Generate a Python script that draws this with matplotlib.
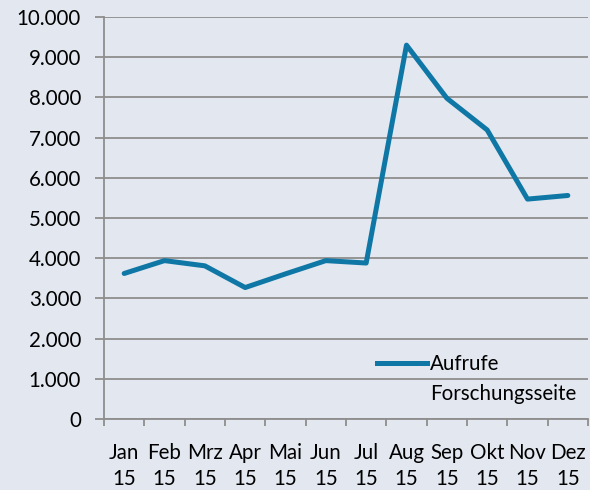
import matplotlib
matplotlib.use("Agg")
import matplotlib.pyplot as plt
from matplotlib.lines import Line2D
from matplotlib.ticker import FuncFormatter

# ---------------------------------- data ----------------------------------
months = ["Jan", "Feb", "Mrz", "Apr", "Mai", "Jun", "Jul", "Aug", "Sep", "Okt", "Nov", "Dez"]
years = ["15"] * 12
aufrufe = [3620, 3940, 3810, 3270, 3610, 3940, 3880, 9300, 7980, 7190, 5470, 5560]
series_name = "Aufrufe\nForschungsseite"

bg = "#e2e7f0"
line_color = "#0f77a5"
grid_color = "#8e8e8e"
fs = 14.8

plt.rcParams["font.family"] = ["Lato", "DejaVu Sans"]

fig = plt.figure(figsize=(5.9, 4.9), dpi=100, facecolor=bg)
ax = fig.add_axes([104 / 590, 1 - 419 / 490, 484 / 590, 402 / 490])
ax.set_facecolor(bg)

x = list(range(len(months)))
ax.plot(x, aufrufe, color=line_color, linewidth=3.6, solid_joinstyle="round", solid_capstyle="round", zorder=3)

ax.set_xlim(-0.5, len(months) - 0.5)
ax.set_ylim(0, 10000)
ax.set_yticks(range(0, 10001, 1000))
ax.yaxis.set_major_formatter(FuncFormatter(lambda v, p: f"{int(v):,}".replace(",", ".")))
ax.grid(axis="y", color=grid_color, linewidth=1.3)
ax.set_axisbelow(True)

# category boundaries get tick marks, labels sit in between
ax.set_xticks([i - 0.5 for i in range(len(months) + 1)])
ax.set_xticklabels([])
ax.set_xticks(x, minor=True)
ax.set_xticklabels([m + "\n" + y for m, y in zip(months, years)], minor=True, linespacing=1.42)
ax.tick_params(axis="x", which="major", length=5, width=1.3, color=grid_color, direction="out")
ax.tick_params(axis="x", which="minor", length=0, pad=17, labelsize=fs)
ax.tick_params(axis="y", length=6.5, width=1.3, color=grid_color, labelsize=fs, pad=10)

for s in ["top", "right"]:
    ax.spines[s].set_visible(False)
for s in ["left", "bottom"]:
    ax.spines[s].set_color(grid_color)
    ax.spines[s].set_linewidth(1.3)

handles = [Line2D([], [], color=line_color, linewidth=3.6), Line2D([], [], linestyle="none")]
labels = series_name.split("\n")
ax.legend(handles, labels, loc="upper left", bbox_to_anchor=(377 / 590, 1 - 354 / 490),
          bbox_transform=fig.transFigure, frameon=False,
          fontsize=fs, handlelength=2.45, handletextpad=0.12, labelspacing=0.5, borderpad=0,
          borderaxespad=0)

fig.savefig("out.png", dpi=100, facecolor=bg)
